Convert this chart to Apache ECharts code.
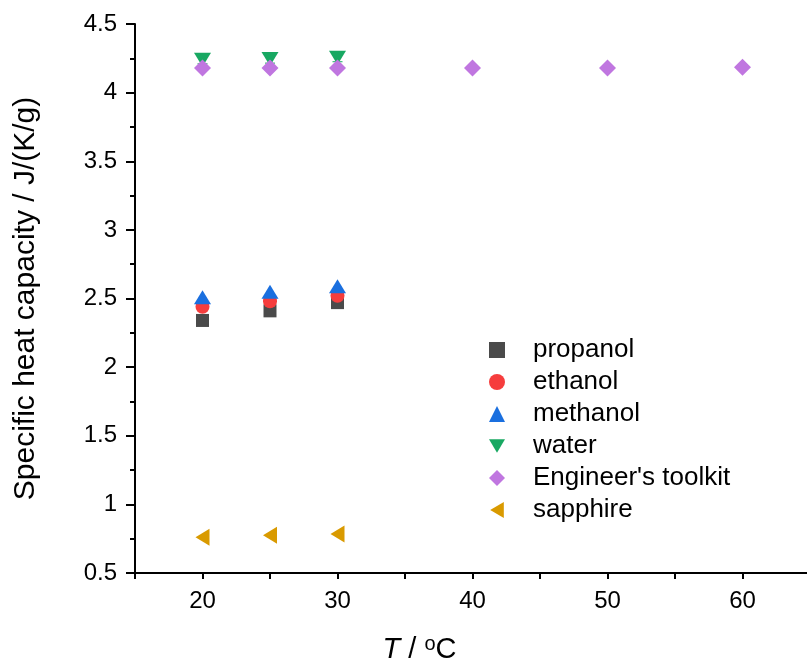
<!DOCTYPE html>
<html>
<head>
<meta charset="utf-8">
<script src="https://cdn.jsdelivr.net/npm/echarts@6/dist/echarts.min.js"></script>
<style>
html, body { margin: 0; padding: 0; background: #fff; }
#chart { width: 807px; height: 661px; }
</style>
</head>
<body>
<div id="chart"></div>
<script>
// 数据
var temps = [20, 25, 30];
var toolkitTemps = [20, 25, 30, 40, 50, 60];
var propanol = [2.34, 2.41, 2.47];
var propanolErr = [0.01, 0.01, 0.04];
var ethanol = [2.44, 2.48, 2.52];
var methanol = [2.51, 2.55, 2.59];
var water = [4.24, 4.245, 4.255];
var waterErr = [0.03, 0.03, 0.03];
var toolkit = [4.18, 4.18, 4.18, 4.18, 4.18, 4.185];
var sapphire = [0.76, 0.775, 0.785];
var xTicks = [20, 30, 40, 50, 60];
var yTicks = [0.5, 1, 1.5, 2, 2.5, 3, 3.5, 4, 4.5];

function pairs(xs, ys) {
	return xs.map(function(x, i) { return [x, ys[i]]; });
}

// 误差棒
function errBars(name, xs, ys, errs, color) {
	return {
		name: name + ' err',
		type: 'custom',
		silent: true,
		z: 1,
		data: xs.map(function(x, i) { return [x, ys[i] - errs[i], ys[i] + errs[i]]; }),
		renderItem: function(params, api) {
			var lo = api.coord([api.value(0), api.value(1)]);
			var hi = api.coord([api.value(0), api.value(2)]);
			var w = 5;
			return {
				type: 'group',
				children: [
					{ type: 'line', shape: { x1: lo[0], y1: lo[1], x2: hi[0], y2: hi[1] }, style: { stroke: color, lineWidth: 1 } },
					{ type: 'line', shape: { x1: lo[0] - w, y1: lo[1], x2: lo[0] + w, y2: lo[1] }, style: { stroke: color, lineWidth: 1 } },
					{ type: 'line', shape: { x1: hi[0] - w, y1: hi[1], x2: hi[0] + w, y2: hi[1] }, style: { stroke: color, lineWidth: 1 } }
				]
			};
		}
	};
}

var colors = ['#4a4a4a', '#f63d3d', '#1a6fdf', '#18a862', '#c076e0', '#d99a00'];
var font = 'Liberation Sans, Arial, sans-serif';
var downTri = 'path://M0,0 L10,0 L5,8.5 Z';
var leftTri = 'path://M8.5,0 L8.5,10 L0,5 Z';

var myChart = echarts.init(document.getElementById('chart'));
var option = {
	animation: false,
	backgroundColor: '#fff',
	grid: { left: 135, top: 24, width: 675, height: 549, containLabel: false, outerBoundsMode: 'none' },
	legend: {
		orient: 'vertical',
		left: 484,
		top: 332,
		itemWidth: 16,
		itemHeight: 16,
		itemGap: 6,
		textStyle: { fontSize: 26, lineHeight: 26, fontFamily: font, color: '#000', padding: [0, 0, 0, 23] },
		data: ['propanol', 'ethanol', 'methanol', 'water', "Engineer's toolkit", 'sapphire']
	},
	xAxis: {
		type: 'value',
		min: 15,
		max: 65,
		interval: 5,
		name: '{i|T} / {s|o}C',
		nameLocation: 'middle',
		nameGap: 61,
		nameTextStyle: {
			fontSize: 29, fontFamily: font, color: '#000', padding: [0, 106, 0, 0],
			rich: {
				i: { fontSize: 29, fontStyle: 'italic', fontFamily: font, color: '#000' },
				s: { fontSize: 20, fontFamily: font, color: '#000', verticalAlign: 'top', padding: [0, 0, 12, 0] }
			}
		},
		axisLine: { onZero: false, lineStyle: { color: '#000', width: 2 } },
		axisTick: { inside: false, length: 6, lineStyle: { width: 2 } },
		axisLabel: { fontSize: 24, fontFamily: font, color: '#000', margin: 16,
			formatter: function(v) { return xTicks.indexOf(v) >= 0 ? String(v) : ''; } },
		splitLine: { show: false }
	},
	yAxis: {
		type: 'value',
		min: 0.5,
		max: 4.5,
		interval: 0.5,
		name: 'Specific heat capacity / J/(K/g)',
		nameLocation: 'middle',
		nameGap: 94,
		nameTextStyle: { fontSize: 30, fontFamily: font, color: '#000' },
		axisLine: { onZero: false, lineStyle: { color: '#000', width: 2 } },
		axisTick: { inside: false, length: 9, lineStyle: { width: 2 } },
		minorTick: { show: true, splitNumber: 2, length: 5, lineStyle: { color: '#000', width: 2 } },
		axisLabel: { fontSize: 24, fontFamily: font, color: '#000', margin: 18,
			formatter: function(v) { return yTicks.indexOf(v) >= 0 ? String(v) : ''; } },
		splitLine: { show: false }
	},
	series: [
		errBars('propanol', temps, propanol, propanolErr, colors[0]),
		errBars('water', temps, water, waterErr, colors[3]),
		{ name: 'propanol', type: 'scatter', symbol: 'rect', symbolSize: 13, z: 2,
			itemStyle: { color: colors[0], opacity: 1 }, data: pairs(temps, propanol) },
		{ name: 'ethanol', type: 'scatter', symbol: 'circle', symbolSize: 14, z: 3,
			itemStyle: { color: colors[1], opacity: 1 }, data: pairs(temps, ethanol) },
		{ name: 'methanol', type: 'scatter', symbol: 'triangle', symbolSize: [17, 14], z: 4,
			itemStyle: { color: colors[2], opacity: 1 }, data: pairs(temps, methanol) },
		{ name: 'water', type: 'scatter', symbol: downTri, symbolSize: [17, 14], z: 3,
			itemStyle: { color: colors[3], opacity: 1 }, data: pairs(temps, water) },
		{ name: "Engineer's toolkit", type: 'scatter', symbol: 'diamond', symbolSize: [17, 17], z: 4,
			itemStyle: { color: colors[4], opacity: 1 }, data: pairs(toolkitTemps, toolkit) },
		{ name: 'sapphire', type: 'scatter', symbol: leftTri, symbolSize: [14, 17], z: 3,
			itemStyle: { color: colors[5], opacity: 1 }, data: pairs(temps, sapphire) }
	]
};
myChart.setOption(option);
</script>
</body>
</html>
